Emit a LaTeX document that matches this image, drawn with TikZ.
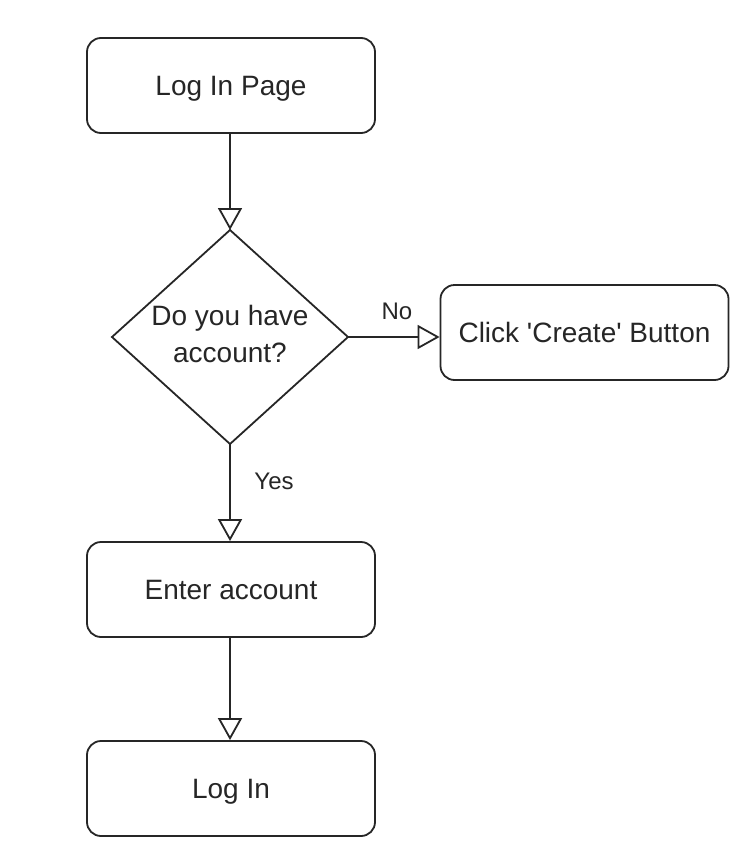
\documentclass[tikz,border=0pt]{standalone}
\usepackage{fontspec}
\setmainfont{Liberation Sans}
\usetikzlibrary{arrows.meta,shapes.geometric}
\begin{document}
\begin{tikzpicture}[x=1pt,y=-1pt,
  box/.style={draw=black!85,line width=1.8pt,rounded corners=14pt,minimum width=288pt,minimum height=95pt,inner sep=0pt,font=\fontsize{28}{34}\selectfont,text=black!85,text height=20pt,text depth=0pt},
  conn/.style={draw=black!85,line width=1.8pt,-{Triangle[open,length=22pt,width=24pt,fill=white]}},
  lbl/.style={font=\fontsize{24}{28}\selectfont,text=black!85}]
\useasboundingbox (0,0) rectangle (750,854);
\node[box] (login) at (231,85.5) {Log In Page};
\draw[draw=black!85,line width=1.8pt] (230,230) coordinate (dtop) -- (348,337) coordinate (dright) -- (230,444) coordinate (dbot) -- (112,337) coordinate (dleft) -- cycle;
\node[font=\fontsize{28}{37}\selectfont,text=black!85,align=center] (q) at (230,334) {Do you have\\account?};
\node[box] (create) at (584.5,332.5) {Click \textquotesingle Create\textquotesingle\ Button};
\node[box] (enter) at (231,589.5) {Enter account};
\node[box] (final) at (231,788.5) {Log In};
\draw[conn] (login.south -| dtop) -- (dtop);
\draw[conn] (dright) -- (dright -| create.west);
\draw[conn] (dbot) -- (enter.north -| dbot);
\draw[conn] (enter.south -| dbot) -- (final.north -| dbot);
\node[lbl] (no) at (397,311) {No};
\node[lbl] (yes) at (274,481) {Yes};
\end{tikzpicture}
\end{document}
